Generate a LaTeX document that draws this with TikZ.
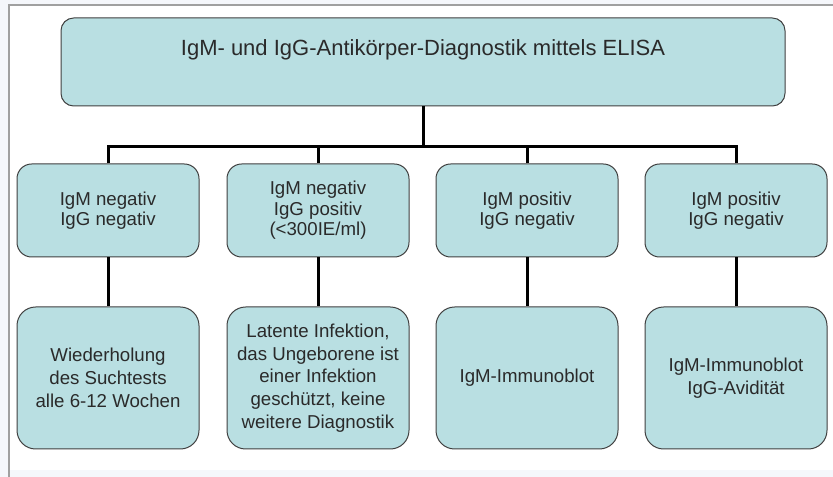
\documentclass[tikz,border=0pt]{standalone}
\usepackage{fontspec}
\setmainfont{Liberation Sans}
\definecolor{boxfill}{HTML}{B9DFE2}
\definecolor{boxline}{HTML}{404040}
\definecolor{txtcol}{HTML}{2A2A2A}
\definecolor{outerbg}{HTML}{F5F7FB}
\definecolor{framegray}{HTML}{A0A0A0}
\begin{document}
\begin{tikzpicture}[x=0.75pt,y=-0.75pt,
  box/.style={draw=boxline, line width=0.75pt, fill=boxfill, inner sep=0pt,
    align=center, text=txtcol, font=\fontsize{14}{15.4}\selectfont},
  rowA/.style={box, rounded corners=11pt, minimum width=136.5pt, minimum height=69.75pt},
  rowB/.style={box, rounded corners=14pt, minimum width=136.5pt, minimum height=106.5pt,
    font=\fontsize{14}{17.1}\selectfont},
  topbox/.style={box, rounded corners=9.5pt, minimum width=543pt, minimum height=66pt},
  link/.style={draw=black, line width=2.25pt}
]
\useasboundingbox (0,0) rectangle (833,477);
\fill[outerbg] (0,0) rectangle (833,477);
\fill[white] (10,6) rectangle (833,470);
\draw[framegray, line width=1.5pt] (8,5) -- (833,5);
\draw[framegray, line width=1.5pt] (9,5) -- (9,477);

\node[topbox] (top) at (423,62) {};
\node[text=txtcol, font=\fontsize{16.5}{18}\selectfont, inner sep=0pt] (title) at (423,50)
  {IgM- und IgG-Antikörper-Diagnostik mittels ELISA};

\node[rowA] (b1) at (108,210.5) {IgM negativ\\IgG negativ};
\node[rowA] (b2) at (318,210.5) {IgM negativ\\IgG positiv\\(<300IE/ml)};
\node[rowA] (b3) at (527,210.5) {IgM positiv\\IgG negativ};
\node[rowA] (b4) at (736,210.5) {IgM positiv\\IgG negativ};

\node[rowB] (c1) at (108,378) {Wiederholung\\des Suchtests\\alle 6-12 Wochen};
\node[rowB] (c2) at (318,378) {Latente Infektion,\\das Ungeborene ist\\einer Infektion\\geschützt, keine\\weitere Diagnostik};
\node[rowB] (c3) at (527,378) {IgM-Immunoblot};
\node[rowB] (c4) at (736,378) {IgM-Immunoblot\\IgG-Avidität};

\coordinate (bar) at (423,147);
\draw[link] (top.south) -- (bar);
\draw[link] (b1.north) |- (bar);
\draw[link] (b4.north) |- (bar);
\draw[link] (b2.north) -- (b2.north |- bar);
\draw[link] (b3.north) -- (b3.north |- bar);

\draw[link] (b1.south) -- (c1.north);
\draw[link] (b2.south) -- (c2.north);
\draw[link] (b3.south) -- (c3.north);
\draw[link] (b4.south) -- (c4.north);
\end{tikzpicture}
\end{document}
